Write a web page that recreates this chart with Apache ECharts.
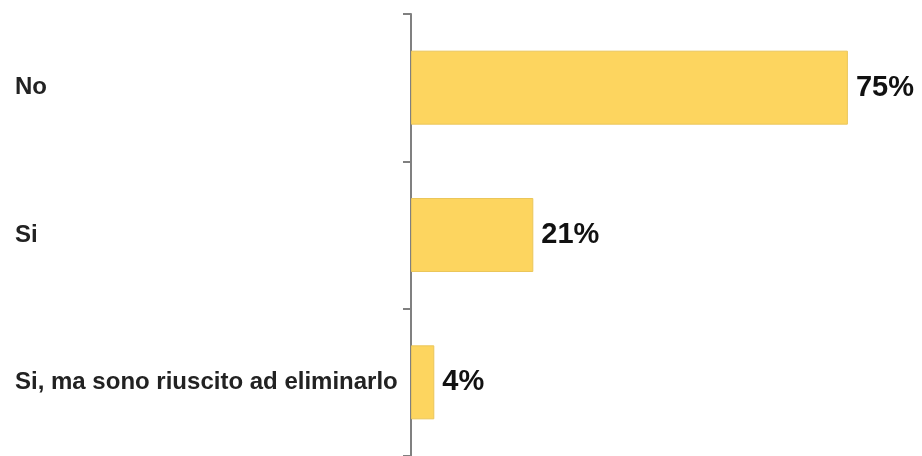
<!DOCTYPE html>
<html>
<head>
<meta charset="utf-8">
<script src="https://cdn.jsdelivr.net/npm/echarts@6/dist/echarts.min.js"></script>
<style>
  html, body { margin: 0; padding: 0; background: #ffffff; }
  #grafico { width: 922px; height: 456px; }
</style>
</head>
<body>
<div id="grafico"></div>
<script>
// risposte e percentuali
const categorie = ['No', 'Si', 'Si, ma sono riuscito ad eliminarlo']
const valori = [75, 21, 4]

const miGrafico = echarts.init(document.getElementById('grafico'))

const opciones = {
  animation: false,
  grid: {
    left: 411,
    right: 45,
    top: 14,
    bottom: 0
  },
  xAxis: {
    type: 'value',
    min: 0,
    max: 80,
    show: false
  },
  yAxis: {
    type: 'category',
    data: categorie,
    inverse: true,
    axisLine: { lineStyle: { color: '#808080', width: 2 } },
    axisTick: { show: true, length: 8, lineStyle: { color: '#808080', width: 2 } },
    axisLabel: {
      align: 'left',
      margin: 396,
      fontFamily: 'Liberation Sans, Arial, sans-serif',
      fontWeight: 'bold',
      fontSize: 24,
      color: '#222222'
    }
  },
  series: [
    {
      type: 'bar',
      data: valori,
      barWidth: 74,
      itemStyle: {
        color: '#fdd55f',
        borderColor: '#ebc65a',
        borderWidth: 1
      },
      label: {
        show: true,
        position: 'right',
        distance: 8,
        formatter: p => p.value + '%',
        fontFamily: 'Liberation Sans, Arial, sans-serif',
        fontWeight: 'bold',
        fontSize: 29,
        color: '#111111'
      }
    }
  ]
}

miGrafico.setOption(opciones)
</script>
</body>
</html>
